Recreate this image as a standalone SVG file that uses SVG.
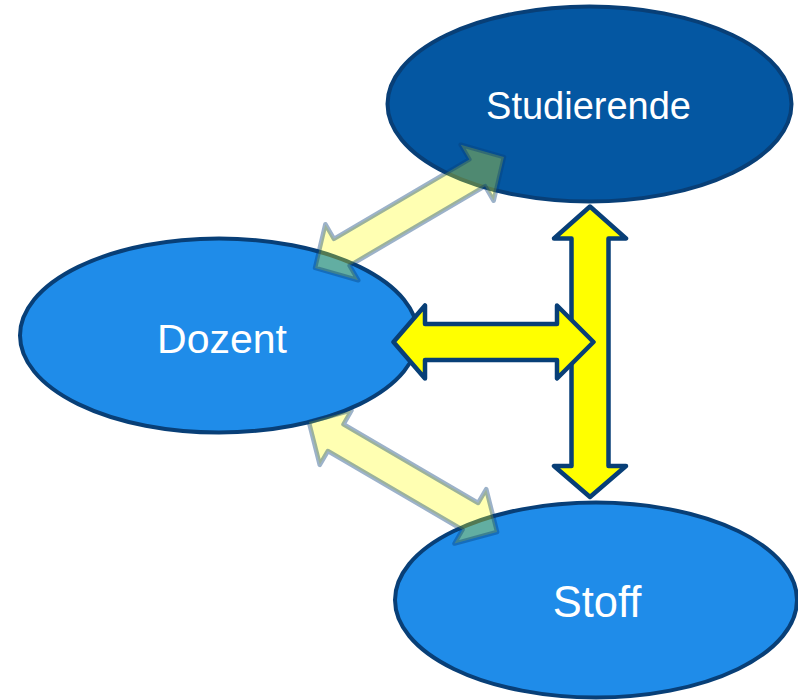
<svg xmlns="http://www.w3.org/2000/svg" width="798" height="700" viewBox="0 0 798 700">
<style>
.node{stroke:#083f77;stroke-width:4}
.dark{fill:#0457a2}
.light{fill:#1f8ce9}
.lbl{fill:#ffffff;font-family:"Liberation Sans",Arial,sans-serif;text-anchor:middle}
.solid{fill:#ffff00;stroke:#083f77;stroke-width:4.5;stroke-linejoin:round}
.faint{fill:#ffff00;fill-opacity:0.3;stroke:#083f77;stroke-opacity:0.4;stroke-width:4.5;stroke-linejoin:round}
</style>
<rect width="798" height="700" fill="#ffffff"/>
<g id="studierende">
<ellipse class="node dark" cx="589.5" cy="104" rx="202" ry="97.5"/>
<text class="lbl" x="588.5" y="119" font-size="38">Studierende</text>
</g>
<g id="dozent">
<ellipse class="node light" cx="219" cy="335.5" rx="199" ry="97"/>
<text class="lbl" x="222" y="353" font-size="41">Dozent</text>
</g>
<g id="stoff">
<ellipse class="node light" cx="596" cy="600" rx="201" ry="97.5"/>
<text class="lbl" x="597" y="617" font-size="43.5">Stoff</text>
</g>
<g id="connectors">
<path class="faint" transform="translate(409.5 212.5) rotate(-30.4)" d="M-109.5 0 L-78.5 -32.5 L-78.5 -15.5 L78.5 -15.5 L78.5 -32.5 L109.5 0 L78.5 32.5 L78.5 15.5 L-78.5 15.5 L-78.5 32.5 Z"/>
<path class="faint" transform="translate(403 477) rotate(30.3)" d="M-109 0 L-78 -31.5 L-78 -15.5 L78 -15.5 L78 -31.5 L109 0 L78 31.5 L78 15.5 L-78 15.5 L-78 31.5 Z"/>
<path class="solid" d="M590 206.5 L626 238.5 L608.5 238.5 L608.5 466 L626 466 L590 497 L554 466 L571.5 466 L571.5 238.5 L554 238.5 Z"/>
<path class="solid" d="M393.5 342 L425 305.5 L425 324 L557 324 L557 305.5 L593.5 342 L557 378.5 L557 360 L425 360 L425 378.5 Z"/>
</g>
</svg>
